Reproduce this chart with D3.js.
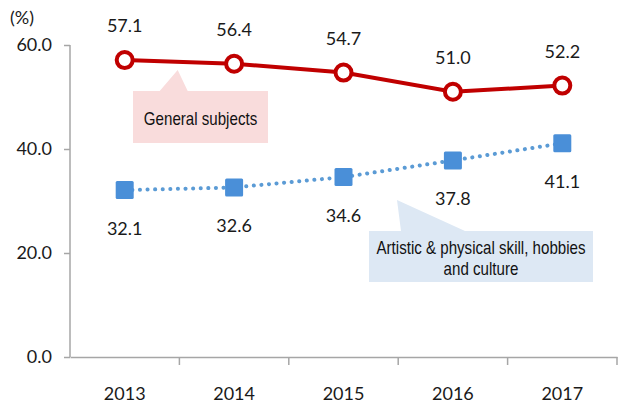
<!DOCTYPE html>
<html>
<head>
<meta charset="utf-8">
<script src="https://cdn.jsdelivr.net/npm/d3@7"></script>
<style>
  html, body { margin: 0; padding: 0; background: #fff; }
  svg { display: block; }
  .num { font-family: Lato, "Open Sans", sans-serif; font-size: 18px; fill: #1a1a1a; }
  .callout { font-family: "Liberation Sans", Arial, sans-serif; font-size: 18px; fill: #111; }
</style>
</head>
<body>
<svg id="chart" width="619" height="409"></svg>
<script>
// Share of spending by subject type, 2013–2017 (%)
const years = ["2013", "2014", "2015", "2016", "2017"];
const generalSubjects = [57.1, 56.4, 54.7, 51.0, 52.2];
const artisticSkills = [32.1, 32.6, 34.6, 37.8, 41.1];
const yTicks = [0, 20, 40, 60];
const unitLabel = "(%)";
const generalLabel = ["General subjects"];
const artisticLabel = ["Artistic & physical skill, hobbies", "and culture"];

const svg = d3.select("#chart");
const margin = { left: 70, right: 2, top: 45, bottom: 52 };
const W = 619, H = 409;

const x = d3.scaleBand().domain(years).range([margin.left, W - margin.right]);
const y = d3.scaleLinear().domain([0, 60]).range([H - margin.bottom, margin.top]);
const cx = d => x(d) + x.bandwidth() / 2;

const axisColor = "#a6a6a6";

// Y axis
const yAxis = svg.append("g")
  .attr("transform", `translate(${margin.left},0)`)
  .call(d3.axisLeft(y).tickValues(yTicks).tickSize(6).tickPadding(12).tickFormat(d3.format(".1f")));
yAxis.select(".domain").attr("stroke", axisColor).attr("stroke-width", 1.5).attr("d", `M0,${y(60)}V${y(0)}`);
yAxis.selectAll(".tick line").attr("stroke", axisColor).attr("stroke-width", 1.5);
yAxis.selectAll(".tick text").attr("class", "num").attr("fill", "#1a1a1a").attr("font-size", null).attr("font-family", null);

// X axis with boundary ticks between categories
const xAxis = svg.append("g")
  .attr("transform", `translate(0,${y(0)})`)
  .call(d3.axisBottom(x).tickSize(0).tickPadding(30));
xAxis.select(".domain").attr("stroke", axisColor).attr("stroke-width", 1.5);
xAxis.selectAll(".tick text").attr("class", "num").attr("fill", "#1a1a1a").attr("font-size", null).attr("font-family", null);
xAxis.selectAll(".bound")
  .data(years.map(d => x(d) + x.bandwidth()))
  .enter().append("line")
  .attr("x1", d => d).attr("x2", d => d).attr("y1", 0).attr("y2", 8)
  .attr("stroke", axisColor).attr("stroke-width", 1.5);

// Unit label
svg.append("text").attr("class", "num").attr("x", 10).attr("y", 24).text(unitLabel);

// Condensed callout text: horizontally squeezed via a scale transform
const squeeze = 0.84;
function calloutText(parent, str, tx, ty) {
  parent.append("g")
    .attr("transform", `translate(${tx},${ty}) scale(${squeeze},1)`)
    .append("text").attr("class", "callout").attr("text-anchor", "middle")
    .text(str);
}

// Callout: General subjects
const gTip = [cx("2013") + 53, y(generalSubjects[0]) + 10];
const gBox = { x0: 133, x1: 268, y0: 91, y1: 143 };
svg.append("path")
  .attr("d", `M${gBox.x0},${gBox.y0}H${gTip[0] - 18}L${gTip[0]},${gTip[1]}L${gTip[0] + 10},${gBox.y0}H${gBox.x1}V${gBox.y1}H${gBox.x0}Z`)
  .attr("fill", "#f9dcdc");
calloutText(svg, generalLabel[0], (gBox.x0 + gBox.x1) / 2, 125);

// Callout: Artistic & physical skill
const aTip = [397, 200];
const aBox = { x0: 369, x1: 593, y0: 231, y1: 282 };
svg.append("path")
  .attr("d", `M${aBox.x0},${aBox.y0}H${aTip[0] + 4}L${aTip[0]},${aTip[1]}L${aTip[0] + 68},${aBox.y0}H${aBox.x1}V${aBox.y1}H${aBox.x0}Z`)
  .attr("fill", "#dde8f4");
artisticLabel.forEach((s, i) => calloutText(svg, s, (aBox.x0 + aBox.x1) / 2, 254 + i * 21));

const line = d3.line().x((d, i) => cx(years[i])).y(d => y(d));

// Artistic series: dotted blue line with square markers
const blue = "#4a8fd8";
svg.append("path").datum(artisticSkills).attr("d", line)
  .attr("fill", "none").attr("stroke", "#5b9bd5").attr("stroke-width", 4)
  .attr("stroke-linecap", "round").attr("stroke-dasharray", "0.1 7.5");
svg.selectAll(".sq").data(artisticSkills).enter().append("rect")
  .attr("x", (d, i) => cx(years[i]) - 9).attr("y", d => y(d) - 9)
  .attr("width", 18).attr("height", 18).attr("rx", 1.5).attr("fill", blue);
svg.selectAll(".al").data(artisticSkills).enter().append("text").attr("class", "num")
  .attr("x", (d, i) => cx(years[i])).attr("y", d => y(d) + 45).attr("text-anchor", "middle")
  .text(d => d.toFixed(1));

// General subjects series: solid red line with hollow circles
const red = "#c00000";
svg.append("path").datum(generalSubjects).attr("d", line)
  .attr("fill", "none").attr("stroke", red).attr("stroke-width", 4);
svg.selectAll(".ci").data(generalSubjects).enter().append("circle")
  .attr("cx", (d, i) => cx(years[i])).attr("cy", d => y(d)).attr("r", 8)
  .attr("fill", "#fff").attr("stroke", red).attr("stroke-width", 4);
svg.selectAll(".gl").data(generalSubjects).enter().append("text").attr("class", "num")
  .attr("x", (d, i) => cx(years[i])).attr("y", d => y(d) - 28).attr("text-anchor", "middle")
  .text(d => d.toFixed(1));
</script>
</body>
</html>
